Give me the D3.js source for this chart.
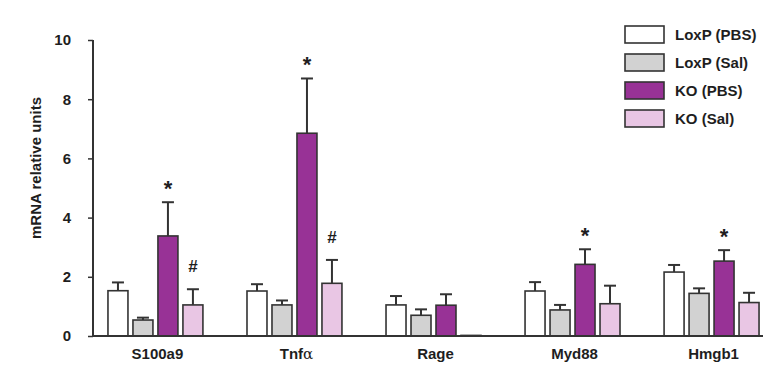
<!DOCTYPE html>
<html>
<head>
<meta charset="utf-8">
<script src="https://cdn.jsdelivr.net/npm/d3@7"></script>
<style>
  html, body { margin: 0; padding: 0; background: #ffffff; }
  svg { display: block; font-family: "Liberation Sans", Arial, sans-serif; }
</style>
</head>
<body>
<svg id="chart" width="766" height="376"></svg>
<script>
const categories = ["S100a9", "Tnf\u03B1", "Rage", "Myd88", "Hmgb1"];
const seriesNames = ["LoxP (PBS)", "LoxP (Sal)", "KO (PBS)", "KO (Sal)"];
const seriesColors = ["#ffffff", "#d2d2d2", "#983296", "#e9c6e4"];
// mean values per series (order follows categories)
const loxpPBS = [1.53, 1.52, 1.05, 1.52, 2.16];
const loxpSal = [0.54, 1.05, 0.70, 0.88, 1.44];
const koPBS   = [3.38, 6.85, 1.04, 2.42, 2.53];
const koSal   = [1.05, 1.78, 0.02, 1.09, 1.13];
// upper error bar ends
const loxpPBSErr = [1.81, 1.75, 1.35, 1.82, 2.40];
const loxpSalErr = [0.62, 1.20, 0.90, 1.05, 1.61];
const koPBSErr   = [4.52, 8.70, 1.41, 2.93, 2.90];
const koSalErr   = [1.58, 2.57, 0.02, 1.70, 1.46];
// significance marks
const koPBSMark = ["*", "*", "", "*", "*"];
const koSalMark = ["#", "#", "", "", ""];
const yTicks = [0, 2, 4, 6, 8, 10];

const values = [loxpPBS, loxpSal, koPBS, koSal];
const errs = [loxpPBSErr, loxpSalErr, koPBSErr, koSalErr];
const marks = [null, null, koPBSMark, koSalMark];

const svg = d3.select("#chart");
const ink = "#333333";
const txt = "#1e1e1e";

const y = d3.scaleLinear().domain([0, 10]).range([336, 40]);
const x0 = d3.scaleBand().domain(categories).range([86, 781]).paddingInner(0.317).paddingOuter(0.158);
const x1 = d3.scaleBand().domain(d3.range(4)).range([0, x0.bandwidth()]).paddingInner(0.2).paddingOuter(0);

// y axis
const yAxis = svg.append("g").attr("transform", "translate(93,0)")
  .call(d3.axisLeft(y).tickValues(yTicks).tickSize(5).tickPadding(17).tickFormat(d3.format("d")));
yAxis.select(".domain").attr("stroke", ink).attr("stroke-width", 2).attr("d", "M0,40V336");
yAxis.selectAll(".tick line").attr("stroke", ink).attr("stroke-width", 1.5);
yAxis.selectAll(".tick text").attr("fill", txt).style("font-size", "15px").style("font-weight", "bold");

// bars
const groups = svg.append("g").selectAll("g").data(categories).join("g")
  .attr("transform", d => `translate(${x0(d)},0)`);

groups.each(function(cat, ci) {
  const g = d3.select(this);
  for (let s = 0; s < 4; s++) {
    const v = values[s][ci], e = errs[s][ci];
    const bx = x1(s), bw = x1.bandwidth();
    const cx = bx + bw / 2;
    if (e > v) {
      g.append("line").attr("x1", cx).attr("x2", cx).attr("y1", y(v)).attr("y2", y(e))
        .attr("stroke", ink).attr("stroke-width", 2);
      g.append("line").attr("x1", cx - 6).attr("x2", cx + 6).attr("y1", y(e)).attr("y2", y(e))
        .attr("stroke", ink).attr("stroke-width", 2);
    }
    g.append("rect").attr("x", bx).attr("width", bw)
      .attr("y", y(v)).attr("height", y(0) - y(v))
      .attr("fill", seriesColors[s]).attr("stroke", ink).attr("stroke-width", 1.6);
    if (marks[s] && marks[s][ci]) {
      const m = marks[s][ci];
      g.append("text").attr("x", cx).attr("y", y(e) - (m === "#" ? 17 : 6))
        .attr("text-anchor", "middle").attr("fill", txt)
        .style("font-size", m === "#" ? "17px" : "22px").style("font-weight", "bold").text(m);
    }
  }
});

// x axis baseline
svg.append("line").attr("x1", 92).attr("x2", 763).attr("y1", y(0)).attr("y2", y(0))
  .attr("stroke", ink).attr("stroke-width", 2);

// category labels
const catLabels = svg.append("g").selectAll("text").data(categories).join("text")
  .attr("x", d => x0(d) + x0.bandwidth() / 2 + 2).attr("y", 359)
  .attr("text-anchor", "middle").attr("fill", txt)
  .style("font-size", "15px").style("font-weight", "bold");
catLabels.each(function(d) {
  const t = d3.select(this);
  if (d.endsWith("\u03B1")) {
    t.append("tspan").text(d.slice(0, -1));
    t.append("tspan").style("font-weight", "normal").style("font-family", "'DejaVu Serif', serif").text("\u03B1");
  } else {
    t.text(d);
  }
});

// y label
svg.append("text").attr("transform", "translate(41,168) rotate(-90)")
  .attr("text-anchor", "middle").attr("fill", txt)
  .style("font-size", "15px").style("font-weight", "bold").text("mRNA relative units");

// legend
const legend = svg.append("g").selectAll("g").data(seriesNames).join("g")
  .attr("transform", (d, i) => `translate(625,${26 + i * 28})`);
legend.append("rect").attr("width", 39).attr("height", 17)
  .attr("fill", (d, i) => seriesColors[i]).attr("stroke", ink).attr("stroke-width", 1.6);
legend.append("text").attr("x", 50).attr("y", 14).attr("fill", txt)
  .style("font-size", "15px").style("font-weight", "bold").text(d => d);
</script>
</body>
</html>
